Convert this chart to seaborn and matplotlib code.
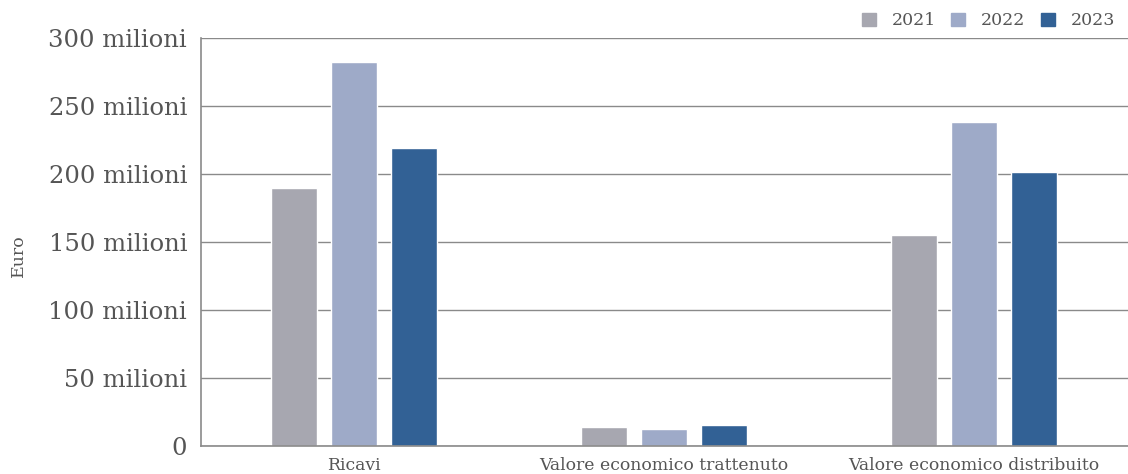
import pandas as pd
import matplotlib.pyplot as plt
import seaborn as sns
from matplotlib.ticker import FuncFormatter

# Values in millions of euro
categories = ["Ricavi", "Valore economico trattenuto", "Valore economico distribuito"]
years = ["2021", "2022", "2023"]
v2021 = [189.7, 14.0, 155.1]
v2022 = [282.4, 12.5, 238.2]
v2023 = [219.1, 15.4, 201.5]

df = pd.DataFrame({
    "categoria": categories * 3,
    "anno": [y for y in years for _ in categories],
    "valore": v2021 + v2022 + v2023,
})

sns.set_style("white")
plt.rcParams["font.family"] = ["DejaVu Serif"]

palette = {"2021": "#a7a7b0", "2022": "#9eaac8", "2023": "#326195"}
text_col = "#555555"

fig = plt.figure(figsize=(11.28, 4.74), dpi=100)
ax = fig.add_axes([201 / 1128, 28 / 474, 930 / 1128, 408 / 474])

sns.barplot(data=df, x="categoria", y="valore", hue="anno", palette=palette,
            width=0.58, gap=0.24, saturation=1, ax=ax, legend=False)

ax.set_ylim(0, 300)
ax.set_xlim(-0.494, 2.506)
ax.set_yticks(range(0, 301, 50))
ax.yaxis.set_major_formatter(FuncFormatter(lambda v, p: "0" if v == 0 else f"{int(v)} milioni"))
ax.grid(axis="y", color="#8a8a8a", linewidth=1)
ax.set_axisbelow(True)
for s in ["top", "right"]:
    ax.spines[s].set_visible(False)
for s in ["left", "bottom"]:
    ax.spines[s].set_color("#8a8a8a")
    ax.spines[s].set_linewidth(1.2)

ax.tick_params(axis="y", labelsize=17.5, labelcolor=text_col, length=0, pad=10)
ax.tick_params(axis="x", labelsize=12.4, labelcolor=text_col, length=0, pad=8)
ax.set_xlabel("")
ax.set_ylabel("")
fig.text(18 / 1128, 1 - 256 / 474, "Euro", rotation=90, ha="center", va="center",
         fontsize=12.5, color=text_col)

handles = [plt.Rectangle((0, 0), 1, 1, color=palette[y]) for y in years]
ax.legend(handles, years, loc="lower right", bbox_to_anchor=(0.992, 1.0), ncol=3,
          frameon=False, fontsize=12.5, labelcolor=text_col, handlelength=0.8,
          handleheight=0.8, columnspacing=0.9, handletextpad=0.9, borderaxespad=0.1)

plt.savefig("out.png", dpi=100)
